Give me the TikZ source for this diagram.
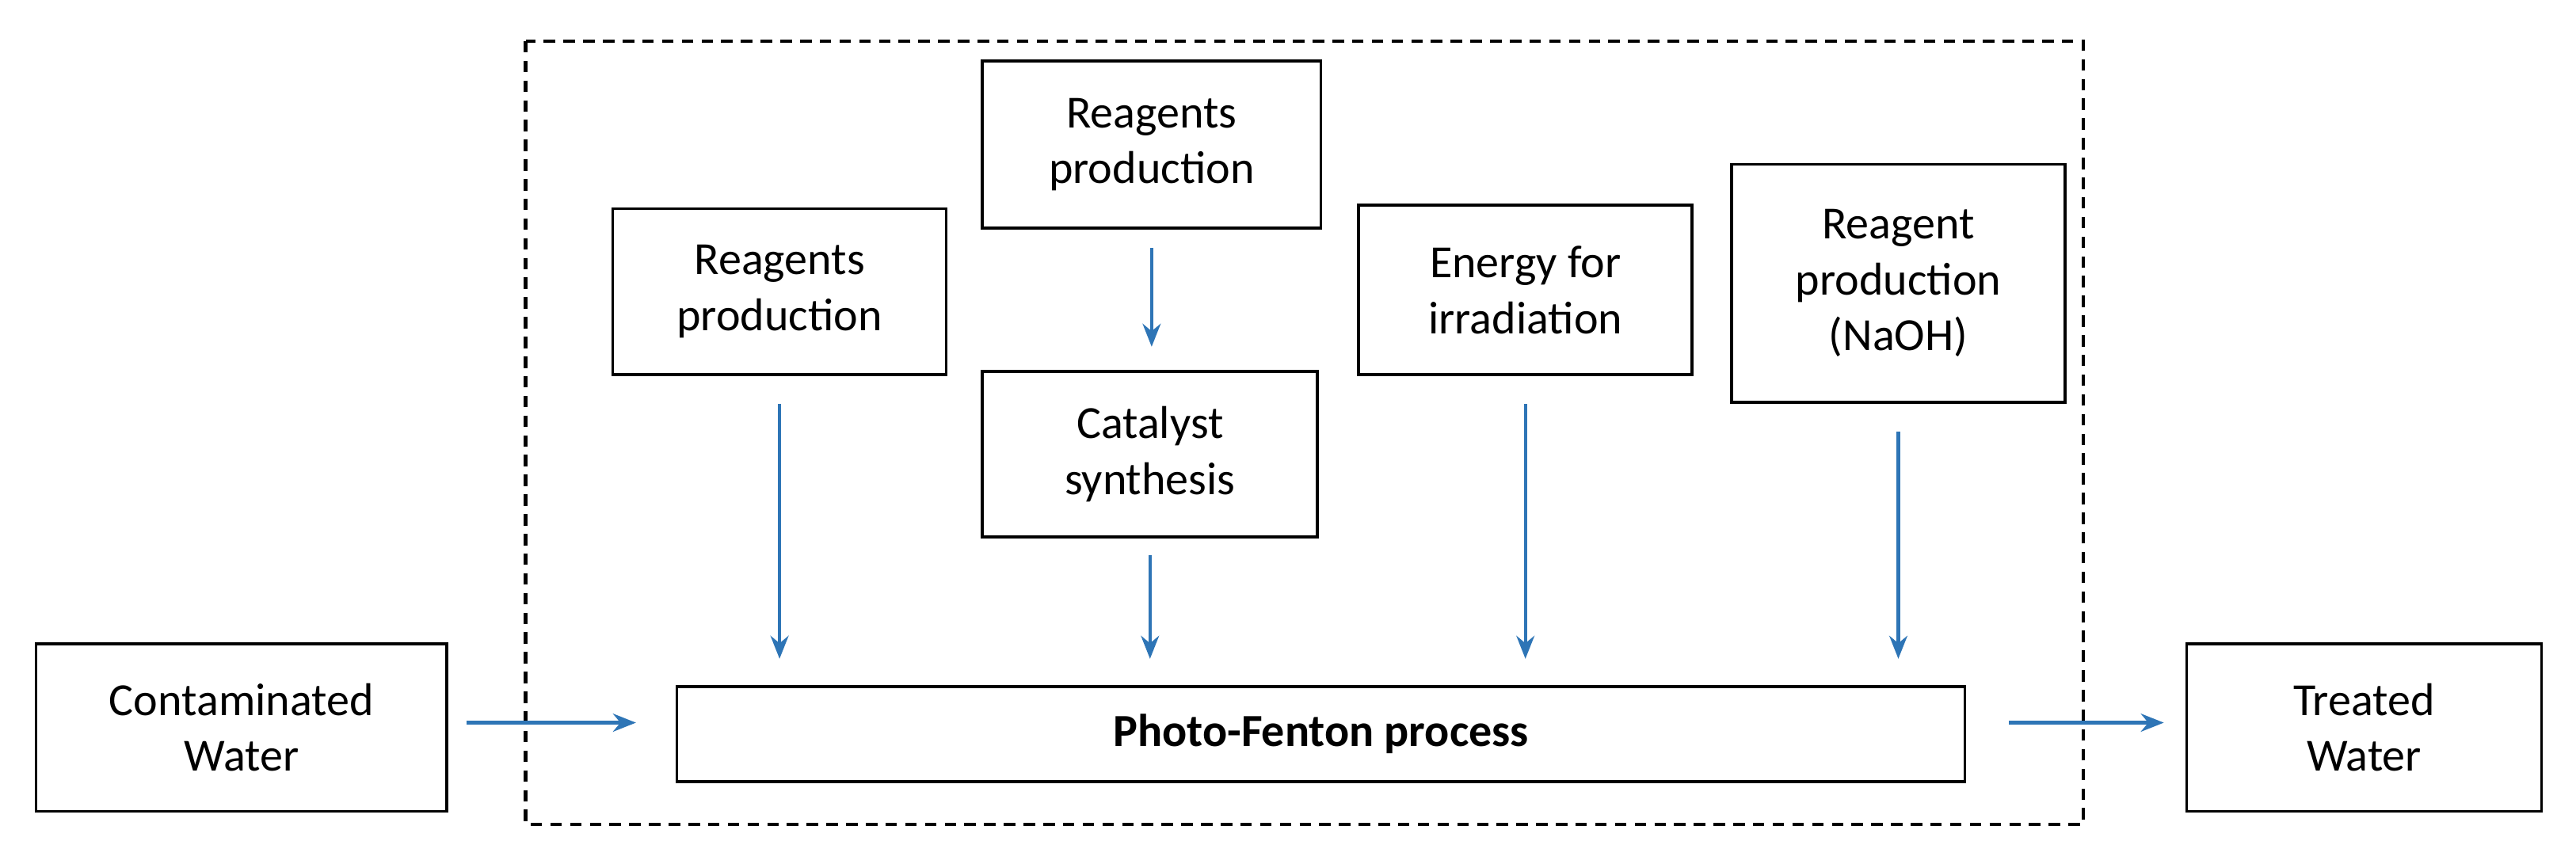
\documentclass[tikz,border=0pt]{standalone}
\usepackage{fontspec}
\setmainfont{Carlito}
\usetikzlibrary{arrows.meta}
\definecolor{ab}{RGB}{46,117,182}
\begin{document}
\begin{tikzpicture}[x=1pt,y=-1pt,
 box/.style={draw,line width=1.8pt,align=center,inner sep=0pt,font=\fontsize{28}{34}\selectfont},
 arr/.style={draw=ab,line width=2pt,-{Stealth[length=14pt,width=11pt]}}]
\useasboundingbox (0,0) rectangle (1568,526);
\draw[line width=2.2pt,dash pattern=on 7pt off 5pt] (320,25) rectangle (1268,502);
\node[box,minimum width=250,minimum height=102] (cw) at (147,443) {Contaminated\\Water};
\node[box,minimum width=784,minimum height=58,font=\fontsize{28}{34}\selectfont\bfseries] (pf) at (804,447) {Photo-Fenton process};
\node[box,minimum width=216,minimum height=102] (tw) at (1439,443) {Treated\\Water};
\node[box,minimum width=203,minimum height=101] (r1) at (474.5,177.5) {Reagents\\production};
\node[box,minimum width=206,minimum height=102] (r2) at (701,88) {Reagents\\production};
\node[box,minimum width=204,minimum height=101] (cs) at (700,276.5) {Catalyst\\synthesis};
\node[box,minimum width=203,minimum height=103] (en) at (928.5,176.5) {Energy for\\irradiation};
\node[box,minimum width=203,minimum height=145] (na) at (1155.5,172.5) {Reagent\\production\\(NaOH)};
\draw[arr,shorten <=17pt,shorten >=16pt] (r1.south) -- (r1.south |- pf.north);
\draw[arr,shorten <=11pt,shorten >=14pt] (r2.south) -- (r2.south |- cs.north);
\draw[arr,shorten <=10pt,shorten >=16pt] (cs.south) -- (cs.south |- pf.north);
\draw[arr,shorten <=17pt,shorten >=16pt] (en.south) -- (en.south |- pf.north);
\draw[arr,shorten <=17pt,shorten >=16pt] (na.south) -- (na.south |- pf.north);
\draw[arr,shorten <=11pt,shorten >=24pt] (cw.east |- 0,440) -- (pf.west |- 0,440);
\draw[arr,shorten <=26pt,shorten >=13pt] (pf.east |- 0,440) -- (tw.west |- 0,440);
\end{tikzpicture}
\end{document}
